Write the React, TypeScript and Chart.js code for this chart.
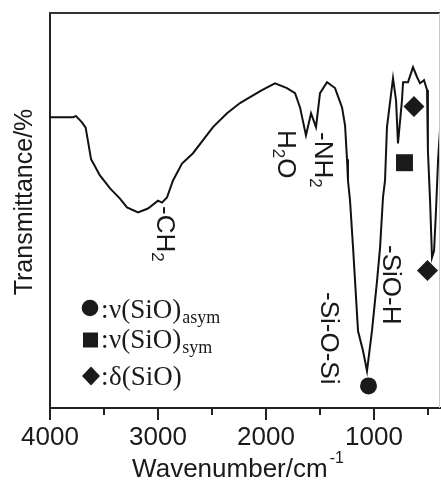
import React, { useEffect, useRef } from 'react';
import { Chart, registerables } from 'chart.js';

Chart.register(...registerables);

// IR spectrum
const wavenumbers = [
  4000, 3787, 3759, 3704, 3670, 3648, 3620, 3590, 3541, 3444, 3352, 3287, 3185, 3093,
  3000, 2963, 2917, 2861, 2778, 2676, 2491, 2361, 2241, 2148, 2037, 1917, 1806, 1731,
  1685, 1630, 1583, 1537, 1500, 1435, 1361, 1296, 1268, 1250, 1241, 1222, 1194, 1148,
  1102, 1065, 1019, 972, 944, 917, 898, 880, 824, 796, 778, 741, 731, 685, 639, 602,
  574, 537, 509, 501, 481, 463, 444, 426, 407, 389,
];
const transmittance = [
  73.6, 73.6, 73.9, 72.3, 71.0, 67.5, 63.0, 61.5, 59.0, 55.6, 53.0, 50.8, 49.5, 50.5,
  52.5, 52.0, 53.3, 57.6, 61.9, 64.5, 71.1, 74.6, 77.2, 78.7, 80.5, 82.2, 81.0, 79.7,
  76.1, 69.0, 74.6, 71.1, 79.7, 82.5, 81.0, 76.1, 71.5, 63.0, 57.6, 52.5, 40.6, 19.5,
  14.5, 9.4, 19.5, 32.2, 40.6, 53.3, 57.6, 71.1, 83.5, 77.9, 67.0, 77.9, 82.5, 82.5,
  86.3, 83.8, 82.2, 83.0, 80.5, 65.2, 52.5, 38.1, 39.8, 50.0, 62.7, 70.3,
];

// band markers
const asymBand = [{ x: 1051, y: 5.6 }];
const symBand = [{ x: 718, y: 62.1 }];
const deltaBands = [{ x: 630, y: 76.3 }, { x: 505, y: 34.8 }];

// axis ticks
const xTickValues = [500, 1000, 1500, 2000, 2500, 3000, 3500, 4000];
const xTickLabels = ['', '1000', '', '2000', '', '3000', '', '4000'];

// text
const yTitle = 'Transmittance/%';
const xTitle = 'Wavenumber/cm';
const xTitleSup = '-1';
const bandLabels: { parts: [string, boolean][]; base: number; start: number }[] = [
  { parts: [['-CH', false], ['2', true]], base: 157, start: 206 },
  { parts: [['H', false], ['2', true], ['O', false]], base: 278, start: 130 },
  { parts: [['-NH', false], ['2', true]], base: 315, start: 132 },
  { parts: [['-Si-O-Si', false]], base: 321, start: 292 },
  { parts: [['-SiO-H', false]], base: 383, start: 245 },
];
const legendRows: { shape: string; main: string; sub: string }[] = [
  { shape: 'circle', main: 'ν(SiO)', sub: 'asym' },
  { shape: 'square', main: 'ν(SiO)', sub: 'sym' },
  { shape: 'diamond', main: 'δ(SiO)', sub: '' },
];

const SANS = '"Liberation Sans", Arial, sans-serif';
const SERIF = '"Liberation Serif", "Times New Roman", serif';
const INK = '#1a1a1a';

const decorPlugin = {
  id: 'decor',
  afterDraw(chart: any) {
    const { ctx, chartArea: a, scales } = chart;
    const xs = scales.x;
    ctx.save();
    // frame top / right
    ctx.strokeStyle = '#333';
    ctx.lineWidth = 2;
    ctx.beginPath();
    ctx.moveTo(a.left - 1, a.top);
    ctx.lineTo(a.right, a.top);
    ctx.stroke();
    ctx.strokeStyle = '#c8c8c8';
    ctx.lineWidth = 1;
    ctx.beginPath();
    ctx.moveTo(a.right - 0.5, a.top);
    ctx.lineTo(a.right - 0.5, a.bottom);
    ctx.stroke();
    // tick marks
    ctx.strokeStyle = '#222';
    ctx.lineWidth = 2;
    xTickValues.forEach((v, i) => {
      const px = xs.getPixelForValue(v);
      const len = xTickLabels[i] ? 12 : 7;
      ctx.beginPath();
      ctx.moveTo(px, a.bottom);
      ctx.lineTo(px, a.bottom + len);
      ctx.stroke();
    });

    ctx.fillStyle = INK;
    ctx.textBaseline = 'alphabetic';
    ctx.textAlign = 'left';

    // x title with superscript
    ctx.font = `26px ${SANS}`;
    const w1 = ctx.measureText(xTitle).width;
    ctx.font = `16px ${SANS}`;
    const w2 = ctx.measureText(xTitleSup).width;
    const cx = 238;
    const x0 = cx - (w1 + 2 + w2) / 2;
    ctx.font = `26px ${SANS}`;
    ctx.fillText(xTitle, x0, 477);
    ctx.font = `16px ${SANS}`;
    ctx.fillText(xTitleSup, x0 + w1 + 2, 463);

    // y title (counter-clockwise)
    ctx.save();
    ctx.font = `25px ${SANS}`;
    const wy = ctx.measureText(yTitle).width;
    ctx.translate(32, 202 + wy / 2);
    ctx.rotate(-Math.PI / 2);
    ctx.fillText(yTitle, 0, 0);
    ctx.restore();

    // band labels (clockwise)
    bandLabels.forEach((lab) => {
      ctx.save();
      ctx.translate(lab.base, lab.start);
      ctx.rotate(Math.PI / 2);
      let pos = 0;
      lab.parts.forEach(([t, sub]) => {
        ctx.font = sub ? `17px ${SANS}` : `26px ${SANS}`;
        ctx.fillText(t, pos, sub ? 5 : 0);
        pos += ctx.measureText(t).width;
      });
      ctx.restore();
    });

    // legend
    const rowY = [318, 348, 385];
    const markY = [308, 340, 376];
    legendRows.forEach((row, i) => {
      const my = markY[i];
      ctx.fillStyle = INK;
      ctx.beginPath();
      if (row.shape === 'circle') {
        ctx.arc(90, my, 8.3, 0, Math.PI * 2);
      } else if (row.shape === 'square') {
        ctx.rect(83, my - 7.5, 15, 15);
      } else {
        ctx.moveTo(91, my - 9.5);
        ctx.lineTo(100, my);
        ctx.lineTo(91, my + 9.5);
        ctx.lineTo(82, my);
        ctx.closePath();
      }
      ctx.fill();
      ctx.font = `27px ${SERIF}`;
      ctx.fillText(':', 101, rowY[i]);
      ctx.fillText(row.main, 109, rowY[i]);
      const wm = ctx.measureText(row.main).width;
      if (row.sub) {
        ctx.font = `18px ${SERIF}`;
        ctx.fillText(row.sub, 109 + wm + 1, rowY[i] + 5);
      }
    });
    ctx.restore();
  },
};

export default function App() {
  const ref = useRef<HTMLCanvasElement | null>(null);
  useEffect(() => {
    if (!ref.current) return;
    const chart = new Chart(ref.current, {
      type: 'scatter',
      data: {
        datasets: [
          {
            data: wavenumbers.map((x, i) => ({ x, y: transmittance[i] })),
            showLine: true,
            borderColor: '#111',
            borderWidth: 2,
            pointRadius: 0,
            tension: 0,
          },
          {
            data: asymBand,
            pointStyle: 'circle',
            pointRadius: 8.5,
            backgroundColor: INK,
            borderWidth: 0,
          },
          {
            data: symBand,
            pointStyle: 'rect',
            pointRadius: 12,
            backgroundColor: INK,
            borderWidth: 0,
          },
          {
            data: deltaBands,
            pointStyle: 'rectRot',
            pointRadius: 10.5,
            backgroundColor: INK,
            borderWidth: 0,
          },
        ],
      },
      options: {
        responsive: false,
        animation: false,
        events: [],
        layout: { autoPadding: false, padding: { top: 13, right: 1, left: 0, bottom: 0 } },
        plugins: { legend: { display: false }, tooltip: { enabled: false } },
        scales: {
          x: {
            type: 'linear',
            position: 'bottom',
            reverse: true,
            min: 389,
            max: 4000,
            afterBuildTicks: (s: any) => {
              s.ticks = xTickValues.map((v) => ({ value: v }));
            },
            afterFit: (s: any) => {
              s.height = 76;
              s.paddingLeft = 0;
              s.paddingRight = 0;
            },
            grid: {
              display: true,
              drawOnChartArea: false,
              drawTicks: true,
              tickLength: 14,
              tickColor: 'rgba(0,0,0,0)',
            },
            border: { display: true, color: '#222', width: 2 },
            ticks: {
              autoSkip: false,
              maxRotation: 0,
              padding: 0,
              color: INK,
              font: { size: 26, family: SANS },
              callback: (v: any) => {
                const i = xTickValues.indexOf(Math.round(Number(v)));
                return i >= 0 ? xTickLabels[i] : '';
              },
            },
          },
          y: {
            min: 0,
            max: 100,
            afterFit: (s: any) => {
              s.width = 50;
            },
            grid: { display: true, drawOnChartArea: false, drawTicks: false },
            border: { display: true, color: '#222', width: 2 },
            ticks: { display: false },
          },
        },
      },
      plugins: [decorPlugin],
    });
    return () => chart.destroy();
  }, []);
  return (
    <div style={{ position: 'absolute', left: 0, top: 0, width: 441, height: 484, background: '#fff' }}>
      <canvas ref={ref} width={441} height={484} style={{ display: 'block' }} />
    </div>
  );
}
